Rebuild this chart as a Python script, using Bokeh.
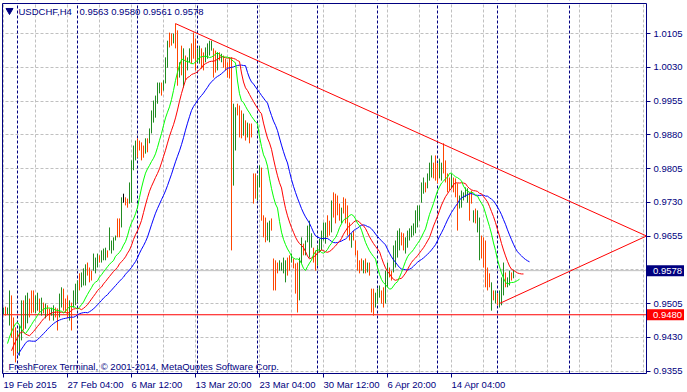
from bokeh.plotting import figure
from bokeh.models import (Range1d, FixedTicker, Span, Label, ColumnDataSource,
                          PrintfTickFormatter, BoxAnnotation)
from bokeh.embed import file_html
from bokeh.resources import INLINE

# ---------------- data ----------------
symbol_title = "USDCHF,H4"
last_ohlc = [0.9563, 0.9580, 0.9561, 0.9578]

highs = [
    0.9496, 0.9498, 0.9496, 0.9534, 0.9523, 0.9474, 0.9452, 0.9441, 0.9456, 0.9512,
    0.9512, 0.9523, 0.9529, 0.9516, 0.9534, 0.9534, 0.9523, 0.9529, 0.9516, 0.9518,
    0.9507, 0.9505, 0.9501, 0.9494, 0.9496, 0.9501, 0.9496, 0.9494, 0.9527, 0.9541,
    0.9538, 0.9516, 0.9523, 0.9512, 0.9507, 0.9534, 0.9549, 0.9556, 0.9572, 0.9574,
    0.9583, 0.9592, 0.9596, 0.9585, 0.9578, 0.9616, 0.9607, 0.9616, 0.9612, 0.9623,
    0.9627, 0.9629, 0.9623, 0.9674, 0.9645, 0.9652, 0.9656, 0.9694, 0.9694, 0.9741,
    0.9749, 0.9741, 0.9738, 0.9774, 0.9823, 0.9856, 0.9867, 0.9872, 0.9867, 0.9863,
    0.9856, 0.9872, 0.9872, 0.9894, 0.9934, 0.9956, 0.9967, 0.9996, 0.9996, 0.9996,
    1.0001, 1.0052, 1.0089, 1.0107, 1.0105, 1.0105, 1.0127, 1.0112, 1.0041, 1.0078,
    1.0072, 1.0056, 1.0052, 1.0072, 1.0083, 1.0107, 1.0094, 1.0072, 1.0078, 1.0072,
    1.0063, 1.0074, 1.0083, 1.0089, 1.0089, 1.0072, 1.0067, 1.0063, 1.0063, 1.0060,
    1.0056, 1.0049, 1.0041, 1.0052, 1.0052, 0.9949, 0.9941, 0.9949, 0.9945, 0.9934,
    0.9927, 0.9912, 0.9907, 0.9905, 0.9905, 0.9794, 0.9794, 0.9789, 0.9812, 0.9807,
    0.9701, 0.9696, 0.9685, 0.9689, 0.9694, 0.9605, 0.9601, 0.9596, 0.9601, 0.9596,
    0.9607, 0.9601, 0.9607, 0.9612, 0.9616, 0.9605, 0.9594, 0.9596, 0.9607, 0.9652,
    0.9638, 0.9645, 0.9678, 0.9689, 0.9661, 0.9629, 0.9623, 0.9634, 0.9649, 0.9667,
    0.9685, 0.9685, 0.9701, 0.9689, 0.9734, 0.9752, 0.9749, 0.9745, 0.9727, 0.9718,
    0.9741, 0.9738, 0.9723, 0.9685, 0.9661, 0.9667, 0.9645, 0.9623, 0.9601, 0.9605,
    0.9601, 0.9605, 0.9596, 0.9596, 0.9538, 0.9538, 0.9529, 0.9538, 0.9545, 0.9534,
    0.9541, 0.9578, 0.9596, 0.9585, 0.9578, 0.9634, 0.9645, 0.9667, 0.9672, 0.9663,
    0.9661, 0.9652, 0.9667, 0.9672, 0.9678, 0.9683, 0.9712, 0.9723, 0.9723, 0.9774,
    0.9785, 0.9774, 0.9794, 0.9818, 0.9834, 0.9818, 0.9834, 0.9816, 0.9827, 0.9818,
    0.9861, 0.9823, 0.9794, 0.9785, 0.9794, 0.9785, 0.9783, 0.9772, 0.9745, 0.9756,
    0.9752, 0.9763, 0.9761, 0.9752, 0.9756, 0.9712, 0.9716, 0.9712, 0.9696, 0.9656,
    0.9652, 0.9645, 0.9585, 0.9572, 0.9552, 0.9534, 0.9534, 0.9527, 0.9534, 0.9563,
    0.9596, 0.9574, 0.9563, 0.9578, 0.9574, 0.9580,
]

lows = [
    0.9481, 0.9478, 0.9481, 0.9456, 0.9429, 0.9389, 0.9374, 0.9396, 0.9389, 0.9423,
    0.9445, 0.9449, 0.9461, 0.9474, 0.9483, 0.9485, 0.9483, 0.9489, 0.9485, 0.9478,
    0.9483, 0.9472, 0.9478, 0.9467, 0.9478, 0.9467, 0.9474, 0.9445, 0.9474, 0.9496,
    0.9489, 0.9485, 0.9472, 0.9467, 0.9445, 0.9496, 0.9501, 0.9507, 0.9534, 0.9541,
    0.9545, 0.9545, 0.9567, 0.9552, 0.9556, 0.9578, 0.9572, 0.9585, 0.9596, 0.9596,
    0.9601, 0.9601, 0.9607, 0.9623, 0.9616, 0.9623, 0.9645, 0.9652, 0.9652, 0.9674,
    0.9729, 0.9723, 0.9718, 0.9727, 0.9729, 0.9801, 0.9823, 0.9829, 0.9845, 0.9823,
    0.9829, 0.9838, 0.9841, 0.9861, 0.9883, 0.9907, 0.9918, 0.9949, 0.9972, 0.9967,
    0.9978, 0.9994, 1.0029, 1.0074, 1.0078, 1.0083, 1.0072, 0.9989, 1.0007, 1.0012,
    0.9985, 1.0001, 1.0023, 1.0041, 1.0038, 1.0049, 1.0023, 1.0041, 1.0038, 1.0027,
    1.0023, 1.0041, 1.0049, 1.0056, 1.0067, 1.0007, 1.0018, 1.0023, 1.0045, 1.0041,
    1.0029, 1.0023, 1.0007, 1.0005, 0.9623, 0.9767, 0.9845, 0.9923, 0.9874, 0.9872,
    0.9878, 0.9867, 0.9874, 0.9861, 0.9874, 0.9727, 0.9738, 0.9734, 0.9763, 0.9689,
    0.9652, 0.9641, 0.9645, 0.9641, 0.9667, 0.9534, 0.9534, 0.9572, 0.9578, 0.9578,
    0.9572, 0.9552, 0.9567, 0.9578, 0.9596, 0.9583, 0.9527, 0.9485, 0.9512, 0.9594,
    0.9612, 0.9612, 0.9641, 0.9607, 0.9629, 0.9596, 0.9578, 0.9589, 0.9618, 0.9623,
    0.9645, 0.9638, 0.9652, 0.9656, 0.9663, 0.9696, 0.9683, 0.9701, 0.9689, 0.9683,
    0.9705, 0.9683, 0.9656, 0.9645, 0.9629, 0.9645, 0.9612, 0.9578, 0.9572, 0.9578,
    0.9572, 0.9572, 0.9574, 0.9567, 0.9485, 0.9478, 0.9496, 0.9505, 0.9518, 0.9505,
    0.9496, 0.9505, 0.9541, 0.9563, 0.9556, 0.9574, 0.9585, 0.9607, 0.9623, 0.9634,
    0.9623, 0.9616, 0.9629, 0.9645, 0.9652, 0.9656, 0.9661, 0.9674, 0.9689, 0.9729,
    0.9749, 0.9752, 0.9761, 0.9778, 0.9785, 0.9783, 0.9778, 0.9772, 0.9783, 0.9778,
    0.9794, 0.9774, 0.9752, 0.9756, 0.9761, 0.9752, 0.9741, 0.9667, 0.9716, 0.9718,
    0.9734, 0.9741, 0.9729, 0.9689, 0.9727, 0.9685, 0.9683, 0.9663, 0.9601, 0.9605,
    0.9585, 0.9541, 0.9534, 0.9541, 0.9489, 0.9512, 0.9505, 0.9501, 0.9496, 0.9501,
    0.9523, 0.9541, 0.9541, 0.9545, 0.9556, 0.9561,
]

# u = bar closed up (green), d = closed down (orange-red), n = unchanged (black)
directions = (
    "uduuddduuu" "duuddduudu" "dudduudduu" "ddduduuudu" "uuddduuudu"
    "uuduuuuddu" "ndduuuuddd" "duduuuuuud" "uuudduddud" "uduuddduud"
    "duuuuddudu" "ddddduuddd" "ududddduud" "dduudddduu" "uudduddduu"
    "duuuudduuu" "uudduddddu" "dddduddddd" "ududdduuud" "duudduuuud"
    "duuuuuuuuu" "uduuuddduu" "dddduddduu" "uuudduduud" "ddddududuu"
    "uduudu"
)

# Alligator (SMMA of median price) starting values at the left edge
jaw_seed, teeth_seed, lips_seed = 0.9389, 0.9400, 0.9416

time_label_bars = [0, 32, 64, 96, 128, 160, 192, 224]
time_labels = ["19 Feb 2015", "27 Feb 04:00", "6 Mar 12:00", "13 Mar 20:00",
               "23 Mar 04:00", "30 Mar 12:00", "6 Apr 20:00", "14 Apr 04:00"]
week_start_bars = [7, 37, 67, 97, 127, 157, 187, 217, 247, 283]
grid_prices = [0.9355, 0.9430, 0.9505, 0.9580, 0.9655, 0.9730, 0.9805,
               0.9880, 0.9955, 1.0030, 1.0105]
axis_prices = [0.9355, 0.9430, 0.9505, 0.9655, 0.9730, 0.9805,
               0.9880, 0.9955, 1.0030, 1.0105]
bid_price = 0.9578
level_price = 0.9480
upper_trend_x = [86, 321.5]
upper_trend_y = [1.0127, 0.9655]
lower_trend_x = [248, 321.5]
lower_trend_y = [0.9505, 0.9655]
copyright_text = "FreshForex Terminal, \u00a9 2001-2014, MetaQuotes Software Corp."

# ---------------- layout ----------------
FONT = "Liberation Sans"
FS = "9.5px"
NAVY = "#000080"
UP = "#228B22"
DOWN = "#FF4500"

W, H = 687, 392
PX_PER_BAR = 2.0
X0 = -1.5                        # bar 0 sits on pixel column 3
X1 = X0 + W / PX_PER_BAR
PPP = 0.0075 / 33.75             # price per pixel of the terminal's scale
Y_TOP = 1.0105 + 33 * PPP
Y_BOT = Y_TOP - H * PPP


def dx(px):
    return X0 + px / PX_PER_BAR


def dy(py):
    return Y_TOP - py * PPP


FR_L, FR_T, FR_R, FR_B = 2, 3, 646, 373   # frame lines of the terminal

p = figure(width=W, height=H, x_range=Range1d(X0, X1), y_range=Range1d(Y_BOT, Y_TOP),
           output_backend="svg", toolbar_location=None, y_axis_location="right",
           min_border_left=0, min_border_right=0, min_border_top=0,
           min_border_bottom=0, background_fill_color="white",
           border_fill_color="white", outline_line_color=None)

# grids
p.xgrid.ticker = FixedTicker(ticks=list(range(0, 322, 16)))
p.ygrid.ticker = FixedTicker(ticks=grid_prices)
for g in (p.xgrid, p.ygrid):
    g.grid_line_color = "#C0C0C0"
    g.grid_line_dash = "3 2"
    g.grid_line_width = 1

# week separators
for b in week_start_bars:
    p.add_layout(Span(location=b, dimension="height", line_color=NAVY,
                      line_dash="3 2", line_width=1, level="underlay"))

# bid line and horizontal level line
p.add_layout(Span(location=bid_price, dimension="width", line_color="#C0C0C0",
                  line_width=1, level="underlay"))
p.add_layout(Span(location=level_price, dimension="width", line_color="#FF0000",
                  line_width=1, level="underlay"))

# white margins around the chart area (scale area of the terminal)
for kw in (dict(left=dx(FR_R + 0.5)), dict(top=dy(FR_B + 0.5)),
           dict(bottom=dy(FR_T - 0.5)), dict(right=dx(FR_L - 0.5))):
    p.add_layout(BoxAnnotation(fill_color="white", fill_alpha=1.0, line_color=None,
                               level="underlay", **kw))

# right price axis drawn at the chart border
ya = p.yaxis[0]
ya.fixed_location = dx(FR_R)
ya.bounds = (dy(FR_B), dy(FR_T))
ya.ticker = FixedTicker(ticks=axis_prices)
ya.formatter = PrintfTickFormatter(format="%.4f")
ya.major_tick_out = 4
ya.major_tick_in = 0
ya.minor_tick_out = 0
ya.minor_tick_in = 0
ya.major_label_standoff = 3
ya.major_label_text_font = FONT
ya.major_label_text_font_size = FS
ya.major_label_text_color = NAVY
ya.axis_line_color = NAVY
ya.major_tick_line_color = NAVY

# bottom time axis at the chart border
xa = p.xaxis[0]
xa.fixed_location = dy(FR_B)
xa.bounds = (dx(FR_L), dx(FR_R))
xa.ticker = FixedTicker(ticks=time_label_bars)
xa.major_label_overrides = {b: "" for b in time_label_bars}
xa.major_label_standoff = 0
xa.major_tick_out = 4
xa.major_tick_in = 0
xa.minor_tick_out = 0
xa.minor_tick_in = 0
xa.axis_line_color = NAVY
xa.major_tick_line_color = NAVY

# left and top border of the chart
p.line([dx(FR_L), dx(FR_L), dx(FR_R)], [dy(FR_B), dy(FR_T), dy(FR_T)],
       line_color=NAVY, line_width=1)

# bars
N = len(highs)
dirs = list(directions[:N]) + ["u"] * max(0, N - len(directions))
colors = [UP if d == "u" else (DOWN if d == "d" else "black") for d in dirs]
src = ColumnDataSource(dict(x=list(range(N)), high=highs, low=lows, color=colors))
p.segment(x0="x", y0="low", x1="x", y1="high", line_color="color",
          line_width=1, source=src)

# Alligator lines
median = [(h + l) / 2.0 for h, l in zip(highs, lows)]


def smma(vals, n, seed):
    out = [seed]
    prev = seed
    for v in vals:
        prev = (prev * (n - 1) + v) / n
        out.append(prev)
    return out


for n, shift, seed, col in ((13, 8, jaw_seed, "#0000FF"),
                            (8, 5, teeth_seed, "#FF0000"),
                            (5, 3, lips_seed, "#00FF00")):
    vals = smma(median, n, seed)
    xs = [i + shift for i in range(-1, N)]
    p.line(xs, vals, line_color=col, line_width=1)

# trend lines
p.line(upper_trend_x, upper_trend_y, line_color="#FF0000", line_width=1)
p.line(lower_trend_x, lower_trend_y, line_color="#FF0000", line_width=1)

# price boxes on the scale
half_box = 5.5 * PPP
for price, bg in ((bid_price, NAVY), (level_price, "#FF0000")):
    p.quad(left=[dx(645.5)], right=[dx(683.5)], bottom=[price - half_box],
           top=[price + half_box], fill_color=bg, line_color=None)
    p.add_layout(Label(x=dx(652.5), y=price, text="%.4f" % price, text_align="left",
                       text_baseline="middle", text_font=FONT, text_font_size=FS,
                       text_color="white"))

# time labels, left aligned on their ticks
for b, t in zip(time_label_bars, time_labels):
    p.add_layout(Label(x=b, y=dy(384), text=t, text_align="left",
                       text_baseline="middle", text_font=FONT,
                       text_font_size=FS, text_color=NAVY))

# title
p.scatter(x=[dx(9)], y=[dy(10)], marker="inverted_triangle", size=7,
          fill_color=NAVY, line_color=NAVY)
p.add_layout(Label(x=dx(18), y=dy(11), text=symbol_title, text_align="left",
                   text_baseline="middle", text_font=FONT, text_font_size=FS,
                   text_color=NAVY))
p.add_layout(Label(x=dx(79), y=dy(11), text=" ".join("%.4f" % v for v in last_ohlc),
                   text_align="left", text_baseline="middle", text_font=FONT,
                   text_font_size=FS, text_color=NAVY))

# copyright line
p.add_layout(Label(x=dx(8), y=dy(366), text=copyright_text, text_align="left",
                   text_baseline="middle", text_font=FONT, text_font_size=FS,
                   text_color=NAVY))

open("out.html", "w").write(file_html(p, INLINE))
